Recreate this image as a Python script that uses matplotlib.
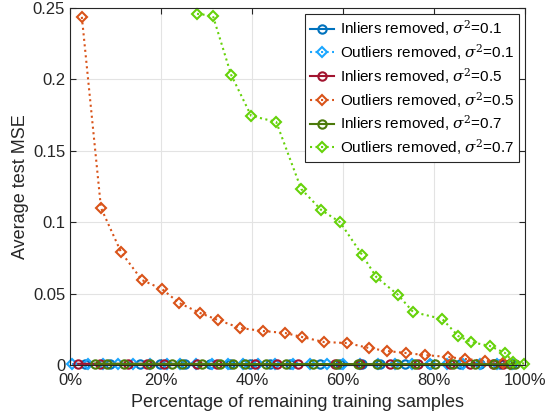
import numpy as np
import matplotlib.pyplot as plt

plt.rcParams['font.family'] = ['Liberation Sans', 'DejaVu Sans']
plt.rcParams['mathtext.fontset'] = 'dejavuserif'

# percentage of remaining samples (x) and average test MSE (y)
x_in_01 = [3.3, 8.8, 15.4, 19.8, 25.3, 30.8, 35.2, 39.6, 44.0, 48.4, 54.9, 59.3,
           64.2, 68.1, 73.6, 79.1, 85.7, 90.1, 94.5, 97.1]
y_in_01 = [0.0008, 0.0007, 0.0008, 0.0007, 0.0007, 0.0008, 0.0007, 0.0007, 0.0007, 0.0007,
           0.0006, 0.0007, 0.0006, 0.0006, 0.0006, 0.0006, 0.0006, 0.0006, 0.0005, 0.0005]

x_out_01 = [0.4, 4.0, 7.3, 10.5, 13.8, 17.6, 21.3, 24.2, 27.7, 31.2, 34.7, 38.0, 41.3,
            45.1, 49.0, 52.7, 56.5, 60.0, 63.7, 67.7, 71.4, 75.2, 79.1, 82.9, 86.4, 90.1, 93.8, 97.1]
y_out_01 = [0.0006] * 28

x_in_05 = [1.8, 6.6, 12.7, 16.9, 20.7, 27.9, 32.3, 40.7, 45.5, 50.1, 58.2, 63.7,
           70.3, 76.5, 83.5, 87.9, 93.0, 95.2]
y_in_05 = [0.0009, 0.0008, 0.0008, 0.0008, 0.0008, 0.0007, 0.0007, 0.0007, 0.0007, 0.0007,
           0.0007, 0.0006, 0.0006, 0.0006, 0.0006, 0.0006, 0.0005, 0.0005]

x_out_05 = [2.6, 6.8, 11.2, 15.8, 20.2, 24.0, 28.6, 32.5, 37.4, 42.4, 47.3, 51.0,
            55.8, 60.9, 65.7, 69.7, 73.8, 78.0, 83.1, 86.8, 91.2, 95.2, 96.7]
y_out_05 = [0.2437, 0.110, 0.0791, 0.0595, 0.0532, 0.0434, 0.0364, 0.0315, 0.0259, 0.0238,
            0.0224, 0.0196, 0.0161, 0.0154, 0.0119, 0.0098, 0.0084, 0.0070, 0.0056, 0.0042,
            0.0030, 0.0014, 0.0007]

x_in_07 = [5.5, 8.1, 11.9, 17.6, 22.4, 24.6, 29.0, 33.0, 35.8, 38.5, 43.1, 47.5,
           53.4, 58.7, 63.3, 67.5, 71.9, 75.8, 80.2, 84.2, 89.0, 93.2, 96.7, 97.8]
y_in_07 = [0.0009, 0.0009, 0.0008, 0.0008, 0.0008, 0.0008, 0.0008, 0.0007, 0.0007, 0.0007,
           0.0007, 0.0007, 0.0007, 0.0006, 0.0006, 0.0006, 0.0006, 0.0006, 0.0006, 0.0006,
           0.0005, 0.0005, 0.0005, 0.0005]

x_out_07 = [27.9, 31.4, 35.4, 39.8, 45.3, 50.8, 55.2, 59.3, 64.2, 67.3, 72.1, 75.4,
            81.8, 85.3, 88.1, 92.3, 95.6, 97.4, 99.8]
y_out_07 = [0.2458, 0.2444, 0.2031, 0.1744, 0.1702, 0.1232, 0.1085, 0.1001, 0.0770, 0.0616,
            0.0490, 0.0371, 0.0322, 0.0203, 0.0161, 0.0133, 0.0084, 0.0021, 0.0010]

xticks = [0, 20, 40, 60, 80, 100]
yticks = [0, 0.05, 0.1, 0.15, 0.2, 0.25]
ytick_labels = ['0', '0.05', '0.1', '0.15', '0.2', '0.25']

fig = plt.figure(figsize=(5.47, 4.12), dpi=100)
ax = fig.add_axes([0.128, 0.114, 0.832, 0.867])

mk = dict(markerfacecolor='none', markeredgewidth=1.5, linewidth=1.5, clip_on=False)
ax.plot(x_in_01, y_in_01, '-o', color='#0072BD', markersize=6,
        label=r'Inliers removed, $\sigma^2$=0.1', **mk)
ax.plot(x_out_01, y_out_01, ':D', color='#1AA6FF', markersize=5,
        label=r'Outliers removed, $\sigma^2$=0.1', **mk)
ax.plot(x_in_05, y_in_05, '-o', color='#A2142F', markersize=6,
        label=r'Inliers removed, $\sigma^2$=0.5', **mk)
ax.plot(x_out_05, y_out_05, ':D', color='#D95319', markersize=5,
        label=r'Outliers removed, $\sigma^2$=0.5', **mk)
ax.plot(x_in_07, y_in_07, '-o', color='#4C7A0B', markersize=6,
        label=r'Inliers removed, $\sigma^2$=0.7', **mk)
ax.plot(x_out_07, y_out_07, ':D', color='#66D20A', markersize=5,
        label=r'Outliers removed, $\sigma^2$=0.7', **mk)

ax.set_xlim(0, 100)
ax.set_ylim(0, 0.25)
ax.set_xticks(xticks)
ax.set_xticklabels([f'{t}%' for t in xticks])
ax.set_yticks(yticks)
ax.set_yticklabels(ytick_labels)
ax.tick_params(direction='in', top=True, right=True, labelsize=12,
               colors='#262626', length=4)
ax.tick_params(axis='x', pad=6)
for s in ax.spines.values():
    s.set_color('#262626')
    s.set_linewidth(0.8)
ax.grid(True, color='#E3E3E3', linewidth=0.8)
ax.set_axisbelow(True)
ax.set_xlabel('Percentage of remaining training samples', fontsize=13,
              color='#262626', labelpad=4)
ax.set_ylabel('Average test MSE', fontsize=13, color='#262626', labelpad=3)

leg = ax.legend(loc='upper right', fontsize=11, handlelength=1.6,
                handletextpad=0.4, borderpad=0.3, labelspacing=0.25,
                fancybox=False, framealpha=1, borderaxespad=0.4)
leg.set_zorder(5)
leg.get_frame().set_edgecolor('#262626')
leg.get_frame().set_linewidth(0.8)

fig.savefig('out.png', dpi=100)
